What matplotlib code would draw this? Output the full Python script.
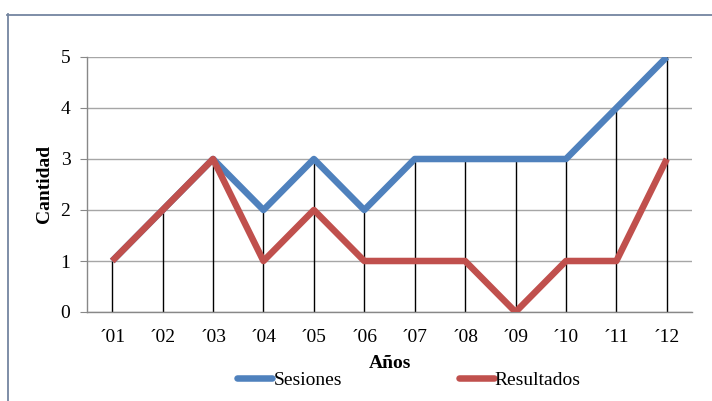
import matplotlib
matplotlib.use("Agg")
import matplotlib.pyplot as plt
from matplotlib.lines import Line2D

years = ["´01", "´02", "´03", "´04", "´05", "´06", "´07", "´08", "´09", "´10", "´11", "´12"]
sesiones = [1, 2, 3, 2, 3, 2, 3, 3, 3, 3, 4, 5]
resultados = [1, 2, 3, 1, 2, 1, 1, 1, 0, 1, 1, 3]

plt.rcParams['font.family'] = ['Liberation Serif', 'DejaVu Serif']

fig = plt.figure(figsize=(7.12, 4.01), dpi=100)
ax = fig.add_axes([87/712, 1-312/401, (692-87)/712, (312-57)/401])

x = list(range(len(years)))
tops = [max(a, b) for a, b in zip(sesiones, resultados)]
ax.vlines(x, 0, tops, colors='black', linewidth=1.0, zorder=2)
ax.plot(x, sesiones, color='#4F81BD', linewidth=4.7, solid_capstyle='butt', zorder=3, label='Sesiones')
ax.plot(x, resultados, color='#C0504D', linewidth=4.7, solid_capstyle='butt', zorder=4, label='Resultados')

ax.set_xlim(-0.5, len(years) - 0.5)
ax.set_ylim(0, 5)
ax.set_yticks(range(6))
ax.set_xticks(x)
ax.set_xticklabels(years)
ax.yaxis.grid(True, color='#A6A6A6', linewidth=1.0, zorder=0)
ax.set_axisbelow(True)
for s in ['top', 'right']:
    ax.spines[s].set_visible(False)
for s in ['left', 'bottom']:
    ax.spines[s].set_color('#888888')
    ax.spines[s].set_linewidth(1.0)
ax.tick_params(axis='y', length=5, color='#888888', labelsize=14, pad=7)
ax.tick_params(axis='x', length=0, labelsize=14, pad=12)

fig.text(45/712, 1-184/401, 'Cantidad', rotation=90, ha='center', va='center', fontsize=14, fontweight='bold')
fig.text(390/712, 1-363/401, 'Años', ha='center', va='center', fontsize=14, fontweight='bold')

handles = [Line2D([], [], color='#4F81BD', linewidth=4.7, solid_capstyle='round'),
           Line2D([], [], color='#C0504D', linewidth=4.7, solid_capstyle='round')]
fig.legend(handles, ['Sesiones', 'Resultados'], loc='center', bbox_to_anchor=(409/712, 1-380/401),
           ncol=2, frameon=False, fontsize=14, handlelength=1.8, handletextpad=0.05,
           columnspacing=6.0, borderpad=0, borderaxespad=0)

frame_color = '#7485A0'
fig.add_artist(Line2D([7.5/712, 7.5/712], [0, 1-14/401], color=frame_color, linewidth=1.3, transform=fig.transFigure))
fig.add_artist(Line2D([7/712, 1], [1-14.5/401, 1-14.5/401], color=frame_color, linewidth=1.3, transform=fig.transFigure))

fig.savefig('out.png', dpi=100)
